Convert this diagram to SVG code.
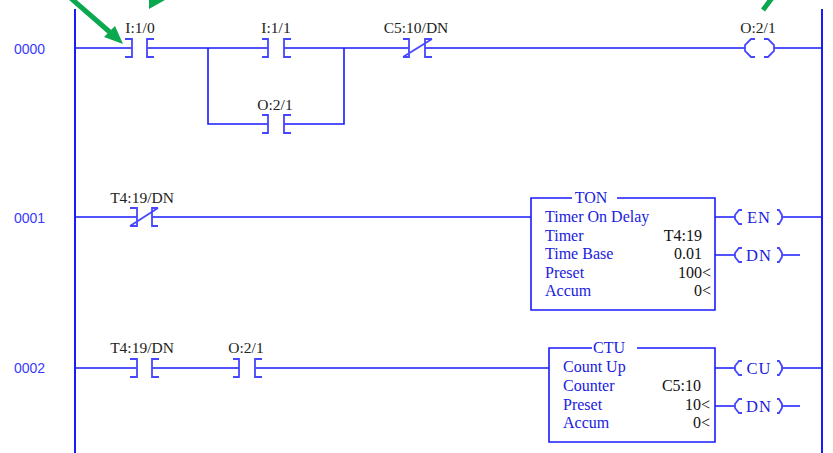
<svg xmlns="http://www.w3.org/2000/svg" width="833" height="453" viewBox="0 0 833 453">
<style>
.w{stroke:#1a1aff;stroke-width:1.6;fill:none}
.c{stroke:#4646ff;stroke-width:1.8;fill:none}
.rail{stroke:#1a1aff;stroke-width:2;fill:none}
.lbl{font-family:"Liberation Serif",serif;font-size:15.5px;fill:#222;text-anchor:middle}
.num{font-family:"Liberation Sans",sans-serif;font-size:14px;fill:#3a3aff}
.bt{font-family:"Liberation Serif",serif;font-size:16px;fill:#2020e0}
.bv{font-family:"Liberation Serif",serif;font-size:16px;fill:#111;text-anchor:end}
.ct{font-family:"Liberation Serif",serif;font-size:16px;fill:#2020e0;text-anchor:middle}
.cl{font-family:"Liberation Serif",serif;font-size:16.5px;fill:#2020e0;text-anchor:middle;letter-spacing:1px}
.g{stroke:#0aa84f;stroke-width:5;fill:none}
</style>
<rect width="833" height="453" fill="#fff"/>
<g id="rails">
<line class="rail" x1="75" y1="9" x2="75" y2="453"/>
<line class="rail" x1="822" y1="9" x2="822" y2="453"/>
</g>
<g id="rung-numbers">
<text class="num" x="14" y="54">0000</text>
<text class="num" x="14" y="223">0001</text>
<text class="num" x="14" y="373">0002</text>
</g>
<g id="connectors">
<path class="w" d="M75,48 H132 M147,48 H268 M284,48 H409 M425,48 H745 M774,48 H822"/>
<path class="w" d="M208,48 V124 H268 M284,124 H344 V48"/>
<path class="w" d="M75,217 H137 M152,217 H531 M715,217 H735 M782,217 H822 M715,255 H735 M782,255 H800"/>
<path class="w" d="M75,368 H137 M152,368 H239 M255,368 H549 M715,368 H735 M782,368 H822 M715,406 H735 M782,406 H800"/>
</g>
<g id="I1_0">
<path class="c" d="M125,39 H132 V57 H125 M154,39 H147 V57 H154"/>
<text class="lbl" x="140" y="33">I:1/0</text>
</g>
<g id="I1_1">
<path class="c" d="M262,39 H268 V57 H262 M291,39 H284 V57 H291"/>
<text class="lbl" x="276" y="33">I:1/1</text>
</g>
<g id="O2_1_seal">
<path class="c" d="M262,115 H268 V133 H262 M291,115 H284 V133 H291"/>
<text class="lbl" x="275" y="110">O:2/1</text>
</g>
<g id="C5_10_DN">
<path class="c" d="M403,39 H409 V57 H403 M432,39 H425 V57 H432 M403,57 L432,39"/>
<text class="lbl" x="416" y="33">C5:10/DN</text>
</g>
<g id="O2_1_coil">
<path class="c" d="M755,39 H751 L745,45 V51 L751,57 H755 M764,39 H768 L774,45 V51 L768,57 H764"/>
<text class="lbl" x="758" y="33">O:2/1</text>
</g>
<g id="T4_19_DN_nc">
<path class="c" d="M130,208 H137 V226 H130 M158,208 H152 V226 H158 M130,226 L158,208"/>
<text class="lbl" x="142" y="203">T4:19/DN</text>
</g>
<g id="TON">
<path class="w" d="M572,198 H531 V310 H715 V198 H617"/>
<text class="ct" x="591" y="203">TON</text>
<text class="bt" x="545" y="222">Timer On Delay</text>
<text class="bt" x="545" y="240.5">Timer</text>
<text class="bt" x="545" y="259">Time Base</text>
<text class="bt" x="545" y="277.5">Preset</text>
<text class="bt" x="545" y="296">Accum</text>
<text class="bv" x="702" y="240.5">T4:19</text>
<text class="bv" x="702" y="259">0.01</text>
<text class="bv" x="711" y="277.5">100&lt;</text>
<text class="bv" x="711" y="296">0&lt;</text>
</g>
<g id="EN_coil">
<path class="c" d="M742,210 H739 L735,215 V219 L739,224 H742 M777,210 H779 L782,215 V219 L779,224 H777"/>
<text class="cl" x="759" y="223">EN</text>
</g>
<g id="TON_DN_coil">
<path class="c" d="M742,248 H739 L735,253 V257 L739,262 H742 M777,248 H779 L782,253 V257 L779,262 H777"/>
<text class="cl" x="759" y="261">DN</text>
</g>
<g id="T4_19_DN_no">
<path class="c" d="M130,359 H137 V377 H130 M159,359 H152 V377 H159"/>
<text class="lbl" x="142" y="353">T4:19/DN</text>
</g>
<g id="O2_1_r2">
<path class="c" d="M233,359 H239 V377 H233 M262,359 H255 V377 H262"/>
<text class="lbl" x="246" y="353">O:2/1</text>
</g>
<g id="CTU">
<path class="w" d="M592,348 H549 V442 H715 V348 H637"/>
<text class="ct" x="609" y="353">CTU</text>
<text class="bt" x="563" y="372">Count Up</text>
<text class="bt" x="563" y="391">Counter</text>
<text class="bt" x="563" y="409.5">Preset</text>
<text class="bt" x="563" y="428">Accum</text>
<text class="bv" x="701" y="391">C5:10</text>
<text class="bv" x="710" y="409.5">10&lt;</text>
<text class="bv" x="710" y="428">0&lt;</text>
</g>
<g id="CU_coil">
<path class="c" d="M742,361 H739 L735,366 V370 L739,375 H742 M777,361 H779 L782,366 V370 L779,375 H777"/>
<text class="cl" x="759" y="374">CU</text>
</g>
<g id="CTU_DN_coil">
<path class="c" d="M742,399 H739 L735,404 V408 L739,413 H742 M777,399 H779 L782,404 V408 L779,413 H777"/>
<text class="cl" x="759" y="412">DN</text>
</g>
<g id="arrows">
<line class="g" x1="66" y1="-6" x2="112" y2="34"/>
<polygon fill="#0aa84f" points="123,44 104,37 115,26"/>
<polygon fill="#0aa84f" points="149,9 149,0 165,0"/>
<line class="g" x1="772" y1="-2" x2="763" y2="10"/>
</g>
</svg>
